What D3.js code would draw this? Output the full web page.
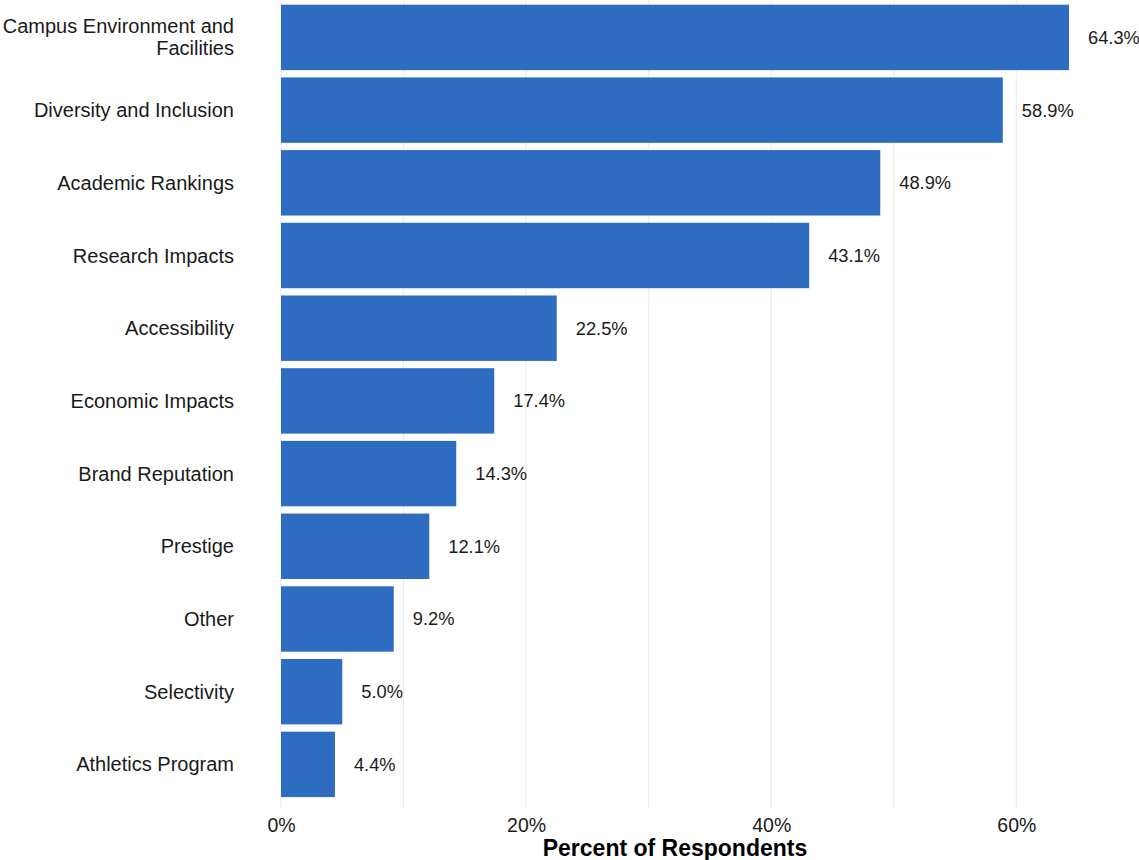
<!DOCTYPE html>
<html><head><meta charset="utf-8">
<script src="https://cdn.jsdelivr.net/npm/d3@7"></script>
<style>body{margin:0;background:#fff;} svg{display:block;font-family:"Liberation Sans",Arial,sans-serif;}</style>
</head><body>
<svg id="c" width="1139" height="860"></svg>
<script>
const categories = ["Campus Environment and Facilities","Diversity and Inclusion","Academic Rankings","Research Impacts","Accessibility","Economic Impacts","Brand Reputation","Prestige","Other","Selectivity","Athletics Program"];
const values = [64.3,58.9,48.9,43.1,22.5,17.4,14.3,12.1,9.2,5.0,4.4];
const tickValues = [0,20,40,60];
const gridValues = [0,10,20,30,40,50,60];
const xTitle = "Percent of Respondents";

const svg = d3.select("#c");
const x = d3.scaleLinear().domain([0, 64.3]).range([281, 1069]);
const y = d3.scaleBand().domain(categories).range([-6.2, 808]).paddingInner(0.1).paddingOuter(0.15);

// gridlines
svg.append("g").selectAll("line").data(gridValues).join("line")
  .attr("x1", d => x(d)).attr("x2", d => x(d))
  .attr("y1", -10).attr("y2", 808)
  .attr("stroke", "#ebebeb").attr("stroke-width", 1.1);

// bars
svg.append("g").selectAll("rect").data(categories).join("rect")
  .attr("x", x(0)).attr("y", d => y(d))
  .attr("width", (d,i) => x(values[i]) - x(0))
  .attr("height", y.bandwidth())
  .attr("fill", "#2e6cc1");

// value labels
svg.append("g").selectAll("text").data(categories).join("text")
  .attr("x", (d,i) => x(values[i]) + 19)
  .attr("y", d => y(d) + y.bandwidth()/2)
  .attr("dy", "0.35em")
  .attr("font-size", 18.3).attr("fill", "#1a1a1a")
  .text((d,i) => values[i].toFixed(1) + "%");

// category labels
const lab = svg.append("g").selectAll("text").data(categories).join("text")
  .attr("x", 234)
  .attr("y", d => y(d) + y.bandwidth()/2)
  .attr("text-anchor", "end")
  .attr("font-size", 20).attr("fill", "#1a1a1a");
lab.each(function(d){
  const t = d3.select(this);
  if (d === "Campus Environment and Facilities") {
    t.append("tspan").attr("x", 234).attr("dy", "-0.2em").text("Campus Environment and");
    t.append("tspan").attr("x", 234).attr("dy", "1.1em").text("Facilities");
  } else {
    t.attr("dy", "0.35em").text(d);
  }
});

// x axis
const xAxis = d3.axisBottom(x).tickValues(tickValues).tickFormat(d => d + "%").tickSize(0).tickPadding(0);
const ax = svg.append("g").attr("transform", "translate(0,818)").call(xAxis);
ax.select(".domain").remove();
ax.selectAll("text").attr("font-size", 19.5).attr("fill", "#1a1a1a").attr("font-family", "Liberation Sans, Arial, sans-serif");

svg.append("text").attr("x", x(32.15)).attr("y", 856)
  .attr("text-anchor", "middle").attr("font-size", 23).attr("font-weight", "bold")
  .attr("fill", "#000").text(xTitle);
</script>
</body></html>
